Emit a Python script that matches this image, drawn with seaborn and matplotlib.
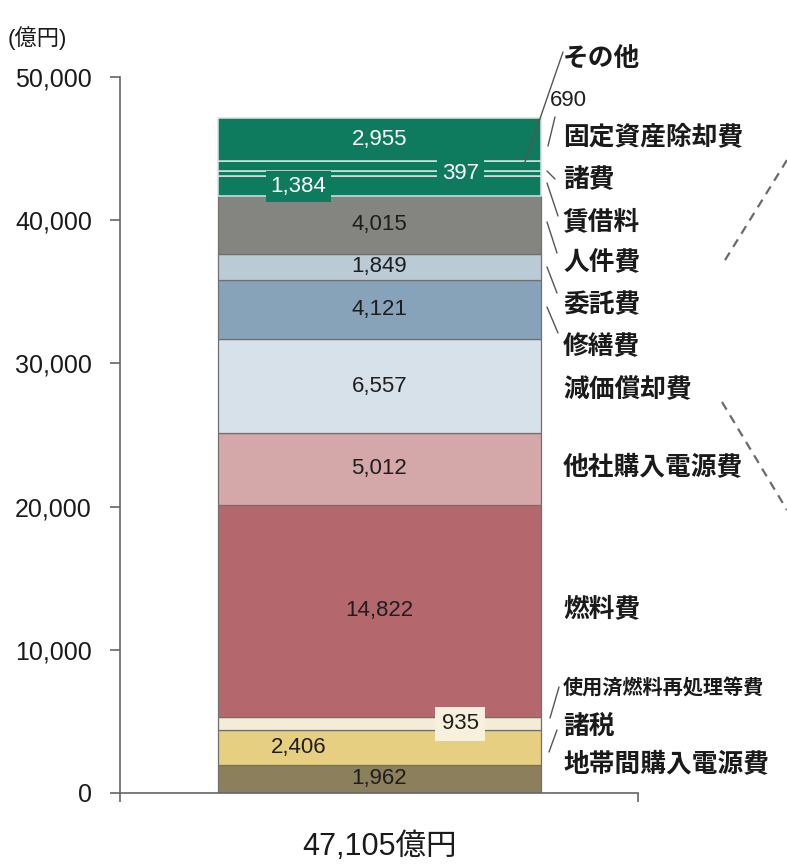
import numpy as np
import matplotlib
matplotlib.use("Agg")
import matplotlib.pyplot as plt
import seaborn as sns
from matplotlib.lines import Line2D

# ---- data (億円), listed from the bottom of the stack upward ----
total_label = "47,105億円"
categories = ["地帯間購入電源費", "諸税", "使用済燃料再処理等費", "燃料費", "他社購入電源費",
              "減価償却費", "修繕費", "委託費", "人件費", "賃借料", "固定資産除却費", "その他", "諸費"]
values = [1962, 2406, 935, 14822, 5012, 6557, 4121, 1849, 4015, 1384, 397, 690, 2955]
colors = ["#8c7f5c", "#e6cf80", "#f4ecd6", "#b4686d", "#d4a7a9",
          "#d7e1e9", "#87a3b9", "#bacbd6", "#848480", "#0e7a5e", "#0e7a5e", "#0e7a5e", "#0e7a5e"]
y_ticks = [0, 10000, 20000, 30000, 40000, 50000]
y_tick_labels = ["0", "10,000", "20,000", "30,000", "40,000", "50,000"]

GREEN = "#0e7a5e"

sns.set_style("white")
plt.rcParams["font.family"] = ["Liberation Sans", "Noto Sans CJK JP"]

W, H = 787, 867
fig = plt.figure(figsize=(W / 100, H / 100), dpi=100)
ax = fig.add_axes([120 / W, 74 / H, 518 / W, 716 / H])


def px(x, y):
    """pixel position (from top-left) -> figure fraction"""
    return x / W, 1 - y / H


bottoms = np.concatenate([[0], np.cumsum(values)[:-1]])

for cat, v, b, c in zip(categories, values, bottoms, colors):
    green = c == GREEN
    sns.barplot(x=[total_label], y=[v], bottom=b, color=c, saturation=1,
                width=0.8, errorbar=None, ax=ax,
                edgecolor="#d6e6e0" if green else "#707070",
                linewidth=1.1 if green else 0.9)

ax.set_ylim(0, 50000)
xlo, xhi = -0.642, 0.640
ax.set_xlim(xlo, xhi)

# ---- values written on the bar ----
x_offset = {"賃借料": -0.2, "固定資産除却費": 0.2, "諸税": -0.2, "使用済燃料再処理等費": 0.2}
for cat, v, b, c in zip(categories, values, bottoms, colors):
    if cat == "その他":
        continue
    green = c == GREEN
    kw = {}
    if cat in ("賃借料", "固定資産除却費"):
        kw["bbox"] = dict(boxstyle="square,pad=0.22", fc=GREEN, ec="none")
    if cat == "使用済燃料再処理等費":
        kw["bbox"] = dict(boxstyle="square,pad=0.3", fc="#f6f0dc", ec="none")
    ax.text(x_offset.get(cat, 0), b + v / 2, f"{v:,}", ha="center", va="center",
            fontsize=16, color="white" if green else "#1e1e1e", zorder=5, **kw)

# value of その他 is written beside its leader line
other_v = values[categories.index("その他")]
fig.text(*px(550, 100), f"{other_v:,}", ha="left", va="center", fontsize=16, color="#1e1e1e")

# ---- category names on the right ----
label_y = {"地帯間購入電源費": 765, "諸税": 726, "使用済燃料再処理等費": 688, "燃料費": 609,
           "他社購入電源費": 468, "減価償却費": 390, "修繕費": 347, "委託費": 305,
           "人件費": 263, "賃借料": 222, "固定資産除却費": 137, "その他": 59, "諸費": 180}
for cat in categories:
    small = cat == "使用済燃料再処理等費"
    fig.text(*px(563, label_y[cat]), cat, ha="left", va="center",
             fontsize=14.5 if small else 18.5, fontweight="bold",
             family=["Noto Sans CJK JP"], color="#1a1a1a")

# leader lines
leaders = [((563, 52), (525, 162)),
           ((555, 117), (548, 146)),
           ((547, 171), (555, 179)),
           ((547, 183), (558, 216)),
           ((547, 222), (557, 253)),
           ((547, 267), (557, 293)),
           ((547, 307), (558, 333)),
           ((559, 687), (550, 718)),
           ((557, 730), (549, 752))]
for (x0, y0), (x1, y1) in leaders:
    fig.add_artist(Line2D([x0 / W, x1 / W], [1 - y0 / H, 1 - y1 / H],
                          color="#555555", lw=1.0, zorder=10))

# dashed connectors on the right edge
for (x0, y0), (x1, y1) in [((787, 160), (722, 265)), ((722, 402), (787, 510))]:
    fig.add_artist(Line2D([x0 / W, x1 / W], [1 - y0 / H, 1 - y1 / H],
                          color="#6a6a6a", lw=1.6, ls=(0, (4, 3))))

# ---- axes styling ----
for s in ("top", "right"):
    ax.spines[s].set_visible(False)
for s in ("left", "bottom"):
    ax.spines[s].set_color("#666666")
    ax.spines[s].set_linewidth(1.2)

ax.set_yticks(y_ticks)
ax.set_yticklabels(y_tick_labels)
ax.tick_params(axis="y", direction="out", length=7.2, width=1.2, color="#666666",
               pad=13, labelsize=18, labelcolor="#1a1a1a", left=True)

ax.set_xticks([0])
ax.set_xticklabels([total_label])
ax.set_xticks([xlo, xhi], minor=True)
ax.tick_params(axis="x", which="major", length=0, pad=28, labelsize=22, labelcolor="#1a1a1a")
ax.tick_params(axis="x", which="minor", direction="out", length=6.5, width=1.2,
               color="#666666", bottom=True)
ax.set_xlabel("")
ax.set_ylabel("")

fig.text(*px(8, 38), "(億円)", ha="left", va="center", fontsize=16, color="#1a1a1a")

fig.savefig("out.png", dpi=100, facecolor="white")
